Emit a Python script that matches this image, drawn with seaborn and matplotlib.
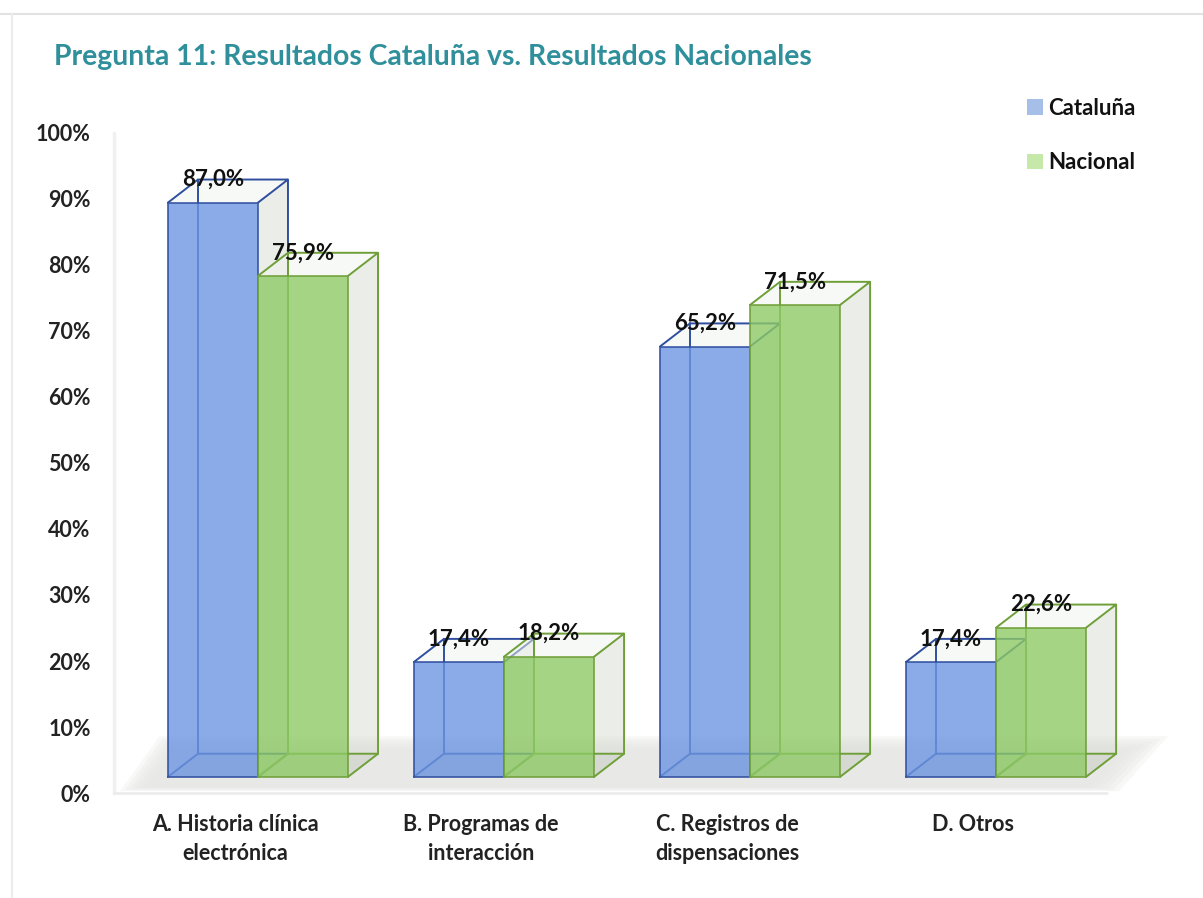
import pandas as pd
import matplotlib
matplotlib.use("Agg")
import matplotlib.pyplot as plt
import seaborn as sns
from matplotlib.lines import Line2D
from matplotlib.patches import Patch, Polygon
from matplotlib.transforms import ScaledTranslation

# data
categories = ["A. Historia clínica\nelectrónica", "B. Programas de\ninteracción",
              "C. Registros de\ndispensaciones", "D. Otros"]
cataluna = [87.0, 17.4, 65.2, 17.4]
nacional = [75.9, 18.2, 71.5, 22.6]
series_names = ["Cataluña", "Nacional"]
y_ticks = [0, 10, 20, 30, 40, 50, 60, 70, 80, 90, 100]

# look of the fake 3D box
BASE = 2.45
DEPTH_X = 30 / 246
DEPTH_Y = 3.5
FILLS = {"Cataluña": "#6d96e2", "Nacional": "#8eca66"}
EDGES = {"Cataluña": "#2f4f9e", "Nacional": "#6f9f38"}
LEGEND_FILLS = {"Cataluña": "#a6bfe9", "Nacional": "#c6e8a8"}
LABEL_SHIFT = -23
FONT = ["Lato", "DejaVu Sans"]

df = pd.DataFrame({
    "categoria": categories * 2,
    "serie": [series_names[0]] * 4 + [series_names[1]] * 4,
    "valor": cataluna + nacional,
})

W, H = 1203, 898
sns.set_theme(style="white")
plt.rcParams["font.family"] = FONT

fig = plt.figure(figsize=(W / 100, H / 100), dpi=100)
ax = fig.add_axes([117 / W, 1 - 793 / H, (1170 - 117) / W, (793 - 133) / H])

sns.barplot(data=df, x="categoria", y="valor", hue="serie", palette=FILLS,
            width=0.732, gap=0, saturation=1, alpha=0.8, legend=False, ax=ax)
ax.set_xlim(-0.573, 3.707)
ax.set_ylim(0, 100)


def add_box_faces(rect, name, z):
    # side, top, floor and back edges drawn from the bar seaborn made
    x0, x1 = rect.get_x(), rect.get_x() + rect.get_width()
    y0, y1 = rect.get_y(), rect.get_y() + rect.get_height()
    dx, dy = DEPTH_X, DEPTH_Y
    edge = EDGES[name]
    ax.add_patch(Polygon([(x1, y0), (x1 + dx, y0 + dy), (x1 + dx, y1 + dy), (x1, y1)],
                         facecolor="#d9ddd3", alpha=0.5, edgecolor="none", zorder=z))
    ax.add_patch(Polygon([(x0, y1), (x0 + dx, y1 + dy), (x1 + dx, y1 + dy), (x1, y1)],
                         facecolor="#f0f4ee", alpha=0.5, edgecolor="none", zorder=z))
    ax.add_patch(Polygon([(x0, y0), (x0 + dx, y0 + dy), (x1 + dx, y0 + dy), (x1, y0)],
                         facecolor="#c9cdc5", alpha=0.4, edgecolor="none", zorder=z))
    wire = [
        [(x0, y1), (x0 + dx, y1 + dy), (x1 + dx, y1 + dy), (x1, y1)],
        [(x1 + dx, y1 + dy), (x1 + dx, y0 + dy), (x1, y0)],
        [(x0, y0), (x0 + dx, y0 + dy), (x1 + dx, y0 + dy)],
        [(x0 + dx, y0 + dy), (x0 + dx, y1 + dy)],
    ]
    for seg in wire:
        xs, ys = zip(*seg)
        ax.plot(xs, ys, color=edge, lw=1.4, zorder=z + 0.5, solid_joinstyle="miter")


# grey floor under the boxes, soft edges from stacked polygons
for grow in [2.0, 1.6, 1.2, 0.8, 0.4, 0.0]:
    ax.add_patch(Polygon([(-0.56 + grow * 0.05, 0.3 + grow * 0.3), (-0.40 + grow * 0.03, 8.6 - grow),
                          (3.70 - grow * 0.08, 8.6 - grow), (3.50 - grow * 0.06, 0.3 + grow * 0.3)],
                         facecolor="#e6e6e4", alpha=0.28, edgecolor="none", zorder=1))

for name, container, z in zip(series_names, ax.containers, [2, 5]):
    for rect in container:
        rect.set_y(BASE)
        rect.set_edgecolor(EDGES[name])
        rect.set_linewidth(1.4)
        rect.set_zorder(z + 1)
        add_box_faces(rect, name, z)
        value = rect.get_height()
        ax.text(rect.get_x() + rect.get_width() / 2, BASE + value + DEPTH_Y,
                f"{value:.1f}%".replace(".", ","), ha="center", va="center",
                fontsize=16, fontweight="bold", color="#111111", zorder=10)

ax.set_yticks(y_ticks)
ax.set_yticklabels([f"{t}%" for t in y_ticks], fontsize=15.5, fontweight="bold",
                   color="#222222")
ax.tick_params(axis="y", length=0, pad=19)
ax.tick_params(axis="x", length=0, pad=15)
ax.set_xlabel("")
ax.set_ylabel("")
ax.set_xticks(range(len(categories)))
ax.set_xticklabels(categories, fontsize=15.5, fontweight="bold", color="#222222",
                   linespacing=1.5)
for tick in ax.get_xticklabels():
    tick.set_transform(tick.get_transform() + ScaledTranslation(LABEL_SHIFT / 100, 0, fig.dpi_scale_trans))
sns.despine(ax=ax, left=True, bottom=True, top=True, right=True)

# pale wall line and baseline of the original chart
ax.plot([-0.585, -0.585], [0, 100], color="#f0f0f0", lw=2.5, zorder=0, clip_on=False)
ax.plot([-0.585, 3.45], [0, 0], color="#ececec", lw=2, zorder=0, clip_on=False)

fig.text(54 / W, 1 - 57 / H, "Pregunta 11: Resultados Cataluña vs. Resultados Nacionales",
         fontsize=20.4, fontweight="bold", color="#2f8f9b", va="center", ha="left")

handles = [Patch(facecolor=LEGEND_FILLS[n], edgecolor="none") for n in series_names]
fig.legend(handles, series_names, loc="upper left", bbox_to_anchor=(1027 / W, 1 - 98 / H),
           frameon=False, handlelength=0.72, handleheight=0.72, handletextpad=0.22,
           labelspacing=1.5, borderpad=0, borderaxespad=0,
           prop={"size": 16, "weight": "bold"}, labelcolor="#111111")

# thin frame of the pasted picture
fig.add_artist(Line2D([0, 1], [1 - 14 / H, 1 - 14 / H], color="#e2e2e2", lw=1.5))
fig.add_artist(Line2D([12 / W, 12 / W], [0, 1 - 14 / H], color="#ececec", lw=1.5))

fig.savefig("out.png", dpi=100)
